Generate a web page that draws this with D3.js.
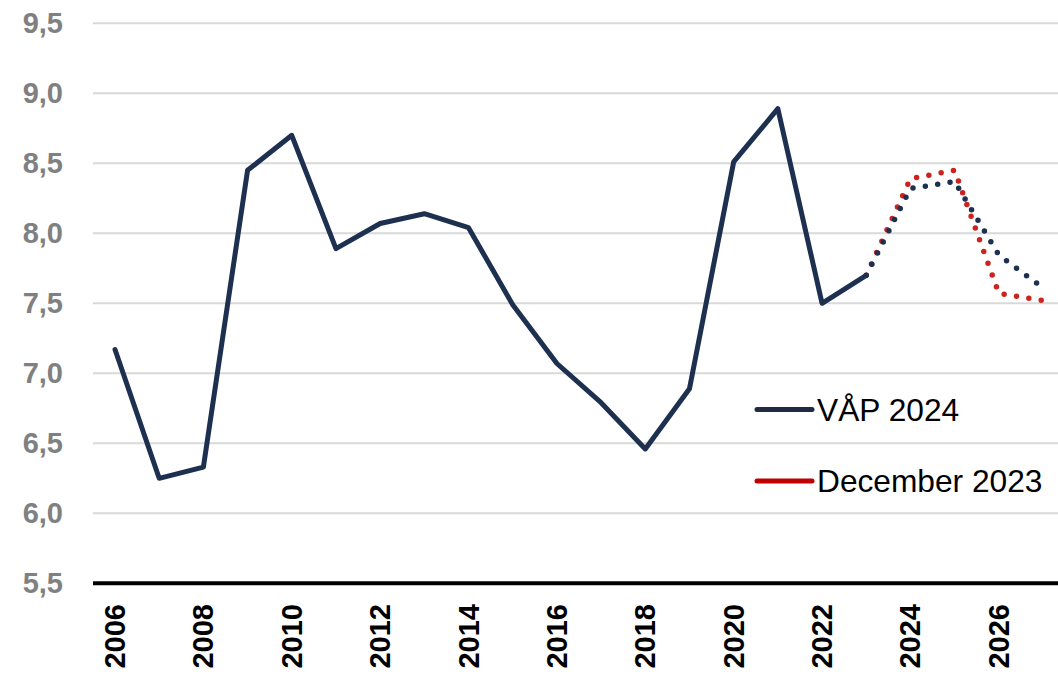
<!DOCTYPE html>
<html>
<head>
<meta charset="utf-8">
<script src="https://cdn.jsdelivr.net/npm/d3@7"></script>
<style>
  html, body { margin: 0; padding: 0; background: #fff; }
  svg { display: block; }
</style>
</head>
<body>
<script>
// historical series, VÅP 2024
const years = [2006, 2007, 2008, 2009, 2010, 2011, 2012, 2013, 2014, 2015, 2016, 2017, 2018, 2019, 2020, 2021, 2022, 2023]
const actual = [7.17, 6.25, 6.33, 8.45, 8.70, 7.89, 8.07, 8.14, 8.04, 7.49, 7.07, 6.79, 6.46, 6.89, 8.51, 8.89, 7.50, 7.70]

// forecasts (dotted)
const fcYears = [2023, 2024, 2025, 2026, 2027]
const vap2024 = [7.70, 8.32, 8.37, 7.845, 7.61]
const dec2023 = [7.70, 8.39, 8.45, 7.57, 7.52]

const yTicks = [5.5, 6.0, 6.5, 7.0, 7.5, 8.0, 8.5, 9.0, 9.5]
const xTicks = [2006, 2008, 2010, 2012, 2014, 2016, 2018, 2020, 2022, 2024, 2026]
const legendItems = ['VÅP 2024', 'December 2023']

const width = 1058, height = 677
const navy = '#1e3050'
const red = '#c00000'
const redDots = '#cc231e'

const svg = d3.select('body').append('svg')
    .attr('width', width).attr('height', height)

const x = d3.scaleLinear().domain([2006, 2027]).range([115, 1043])
const y = d3.scaleLinear().domain([5.5, 9.5]).range([583.3, 23.3])

const fmt = d => d.toFixed(1).replace('.', ',')

// gridlines
svg.append('g')
    .selectAll('line')
    .data(yTicks.filter(d => d > 5.5))
    .join('line')
    .attr('x1', 93).attr('x2', width)
    .attr('y1', d => y(d)).attr('y2', d => y(d))
    .attr('stroke', '#d9d9d9').attr('stroke-width', 2)

// y labels
svg.append('g')
    .selectAll('text')
    .data(yTicks)
    .join('text')
    .attr('x', 63).attr('y', d => y(d))
    .attr('text-anchor', 'end')
    .attr('dominant-baseline', 'central')
    .attr('font-family', 'Liberation Sans, Arial, sans-serif')
    .attr('font-weight', 'bold')
    .attr('font-size', 29)
    .attr('fill', '#808080')
    .text(fmt)

// x axis
svg.append('line')
    .attr('x1', 93).attr('x2', width)
    .attr('y1', y(5.5)).attr('y2', y(5.5))
    .attr('stroke', '#000').attr('stroke-width', 4)

svg.append('g')
    .selectAll('text')
    .data(xTicks)
    .join('text')
    .attr('transform', d => `translate(${x(d)},604) rotate(-90)`)
    .attr('text-anchor', 'end')
    .attr('dominant-baseline', 'central')
    .attr('font-family', 'Liberation Sans, Arial, sans-serif')
    .attr('font-weight', 'bold')
    .attr('font-size', 29)
    .attr('fill', '#000')
    .text(d => d)

const line = d3.line()
    .x(d => x(d[0]))
    .y(d => y(d[1]))

// forecasts, dotted
svg.append('path')
    .datum(d3.zip(fcYears, dec2023))
    .attr('d', line)
    .attr('fill', 'none')
    .attr('stroke', redDots)
    .attr('stroke-width', 5.5)
    .attr('stroke-linecap', 'round')
    .attr('stroke-dasharray', '0 12.5')

svg.append('path')
    .datum(d3.zip(fcYears, vap2024))
    .attr('d', line)
    .attr('fill', 'none')
    .attr('stroke', navy)
    .attr('stroke-width', 5.5)
    .attr('stroke-linecap', 'round')
    .attr('stroke-dasharray', '0 12.5')

// history, solid
svg.append('path')
    .datum(d3.zip(years, actual))
    .attr('d', line)
    .attr('fill', 'none')
    .attr('stroke', navy)
    .attr('stroke-width', 5)
    .attr('stroke-linejoin', 'round')
    .attr('stroke-linecap', 'round')

// legend
const legend = svg.append('g')
    .selectAll('g')
    .data(legendItems)
    .join('g')
    .attr('transform', (d, i) => `translate(757,${409.5 + i * 71.5})`)

legend.append('line')
    .attr('x1', 0).attr('x2', 55)
    .attr('stroke', (d, i) => i === 0 ? '#1f2b42' : red)
    .attr('stroke-width', 5)
    .attr('stroke-linecap', 'round')

legend.append('text')
    .attr('x', 60)
    .attr('dominant-baseline', 'central')
    .attr('font-family', 'Liberation Sans, Arial, sans-serif')
    .attr('font-size', 31.7)
    .attr('fill', '#000')
    .text(d => d)
</script>
</body>
</html>
